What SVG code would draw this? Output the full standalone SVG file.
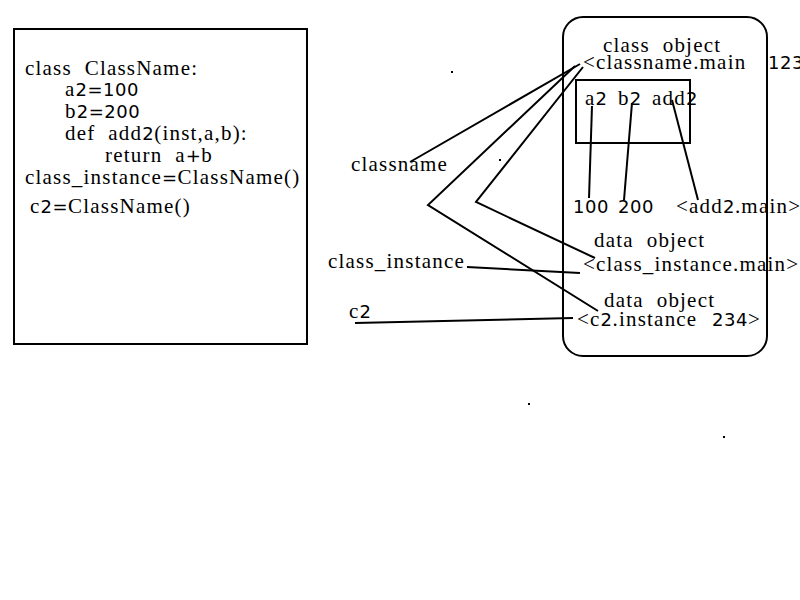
<svg xmlns="http://www.w3.org/2000/svg" width="800" height="600" viewBox="0 0 800 600">
<style>
text{font-family:"Liberation Serif","DejaVu Serif",serif;font-size:21px;letter-spacing:1.2px;fill:#000;white-space:pre}
.n{font-family:"DejaVu Sans","Liberation Sans",sans-serif;font-size:18px;letter-spacing:0.5px}
.box{fill:none;stroke:#000;stroke-width:2}
.ln{fill:none;stroke:#000;stroke-width:2}
</style>
<rect width="800" height="600" fill="#fff"/>
<g id="code">
<rect class="box" x="14" y="29" width="293" height="315"/>
<text x="25" y="75">class  ClassName:</text>
<text x="65" y="96">a<tspan class="n">2=100</tspan></text>
<text x="65" y="118">b<tspan class="n">2=200</tspan></text>
<text x="65" y="140">def  add<tspan class="n">2</tspan>(inst,a,b):</text>
<text x="105" y="162">return  a<tspan class="n">+</tspan>b</text>
<text x="25" y="184">class_instance<tspan class="n">=</tspan>ClassName()</text>
<text x="30" y="213">c<tspan class="n">2=</tspan>ClassName()</text>
</g>
<g id="memory">
<rect class="box" x="563" y="17" width="204" height="339" rx="20"/>
<text x="603" y="52">class  object</text>
<text x="583" y="69">&lt;classname.main<tspan class="n" x="768">123</tspan></text>
<rect class="box" x="576" y="80" width="114" height="63"/>
<text x="585" y="105">a<tspan class="n">2</tspan><tspan x="618">b</tspan><tspan class="n">2</tspan><tspan x="652">add</tspan><tspan class="n">2</tspan></text>
<text class="n" x="573" y="213">100<tspan x="618">200</tspan></text>
<text x="676" y="213">&lt;add<tspan class="n">2</tspan>.main&gt;</text>
<text x="594" y="247">data  object</text>
<text x="583" y="271">&lt;class_instance.main&gt;</text>
<text x="604" y="307">data  object</text>
<text x="577" y="326">&lt;c<tspan class="n">2</tspan>.instance<tspan class="n" x="712">234</tspan><tspan x="748">&gt;</tspan></text>
</g>
<g id="labels">
<text x="351" y="171">classname</text>
<text x="328" y="268">class_instance</text>
<text x="349" y="318">c<tspan class="n">2</tspan></text>
</g>
<g id="connectors">
<line class="ln" x1="410" y1="162" x2="580" y2="64"/>
<polyline class="ln" points="575,66 428,205 598,311"/>
<polyline class="ln" points="583,67 476,202 595,258"/>
<line class="ln" x1="467" y1="267" x2="580" y2="273"/>
<line class="ln" x1="355" y1="323" x2="573" y2="318"/>
<line class="ln" x1="592" y1="106" x2="589" y2="198"/>
<line class="ln" x1="632" y1="103" x2="624" y2="200"/>
<line class="ln" x1="672" y1="100" x2="698" y2="200"/>
</g>
<g id="dots" fill="#000">
<rect x="451" y="71" width="2" height="2"/>
<rect x="499" y="159" width="2" height="2"/>
<rect x="528" y="403" width="2" height="2"/>
<rect x="723" y="436" width="2" height="2"/>
</g>
</svg>
